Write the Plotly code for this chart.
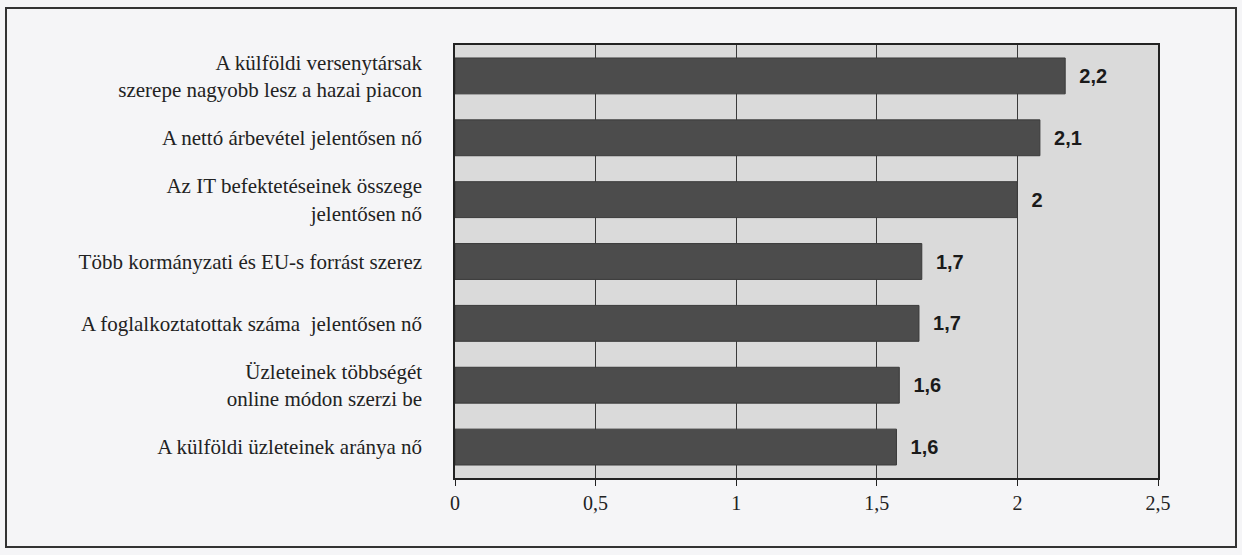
import plotly.graph_objects as go

categories = [
    "A külföldi versenytársak<br>szerepe nagyobb lesz a hazai piacon",
    "A nettó árbevétel jelentősen nő",
    "Az IT befektetéseinek összege<br>jelentősen nő",
    "Több kormányzati és EU-s forrást szerez",
    "A foglalkoztatottak száma  jelentősen nő",
    "Üzleteinek többségét<br>online módon szerzi be",
    "A külföldi üzleteinek aránya nő",
]
values = [2.17, 2.08, 2.0, 1.66, 1.65, 1.58, 1.57]
value_labels = ["2,2", "2,1", "2", "1,7", "1,7", "1,6", "1,6"]
tick_vals = [0, 0.5, 1, 1.5, 2, 2.5]
tick_text = ["0", "0,5", "1", "1,5", "2", "2,5"]

W, H = 1242, 555
L, R, T, B = 455, 1158, 45, 478

fig = go.Figure(go.Bar(
    x=values, y=categories, orientation="h",
    marker=dict(color="#4c4c4c", line=dict(color="#3a3a3a", width=1)),
    text=value_labels, textposition="outside",
    texttemplate="  %{text}",
    textfont=dict(family="Liberation Sans", size=20, color="#1a1a1a", weight="bold"),
    cliponaxis=False,
))

pw = R - L
ph = B - T
fig.add_shape(type="rect", xref="paper", yref="paper",
              x0=(6 - L) / pw, x1=(1236 - L) / pw,
              y0=(B - 547) / ph, y1=(B - 8) / ph,
              line=dict(color="#333333", width=2), fillcolor="rgba(0,0,0,0)", layer="below")

fig.update_layout(
    width=W, height=H,
    margin=dict(l=L, r=W - R, t=T, b=H - B),
    paper_bgcolor="#f5f5f7",
    plot_bgcolor="#dadada",
    bargap=0.42,
    showlegend=False,
    font=dict(family="Liberation Serif", color="#222222"),
    xaxis=dict(range=[0, 2.5], tickvals=tick_vals, ticktext=tick_text,
               tickfont=dict(family="Liberation Serif", size=20, color="#222222"),
               showgrid=True, gridcolor="#3a3a3a", gridwidth=1,
               showline=True, linecolor="#222222", linewidth=1.5, mirror=True,
               ticks="outside", ticklen=6, tickcolor="#222222",
               zeroline=False, fixedrange=True),
    yaxis=dict(autorange="reversed",
               tickfont=dict(family="Liberation Serif", size=21, color="#222222"),
               showline=True, linecolor="#222222", linewidth=1.5, mirror=True,
               ticks="", ticklabelstandoff=27, showgrid=False, fixedrange=True),
)

fig.write_html("out.html", config={"displayModeBar": False},
               post_script="document.body.style.margin='0';")
